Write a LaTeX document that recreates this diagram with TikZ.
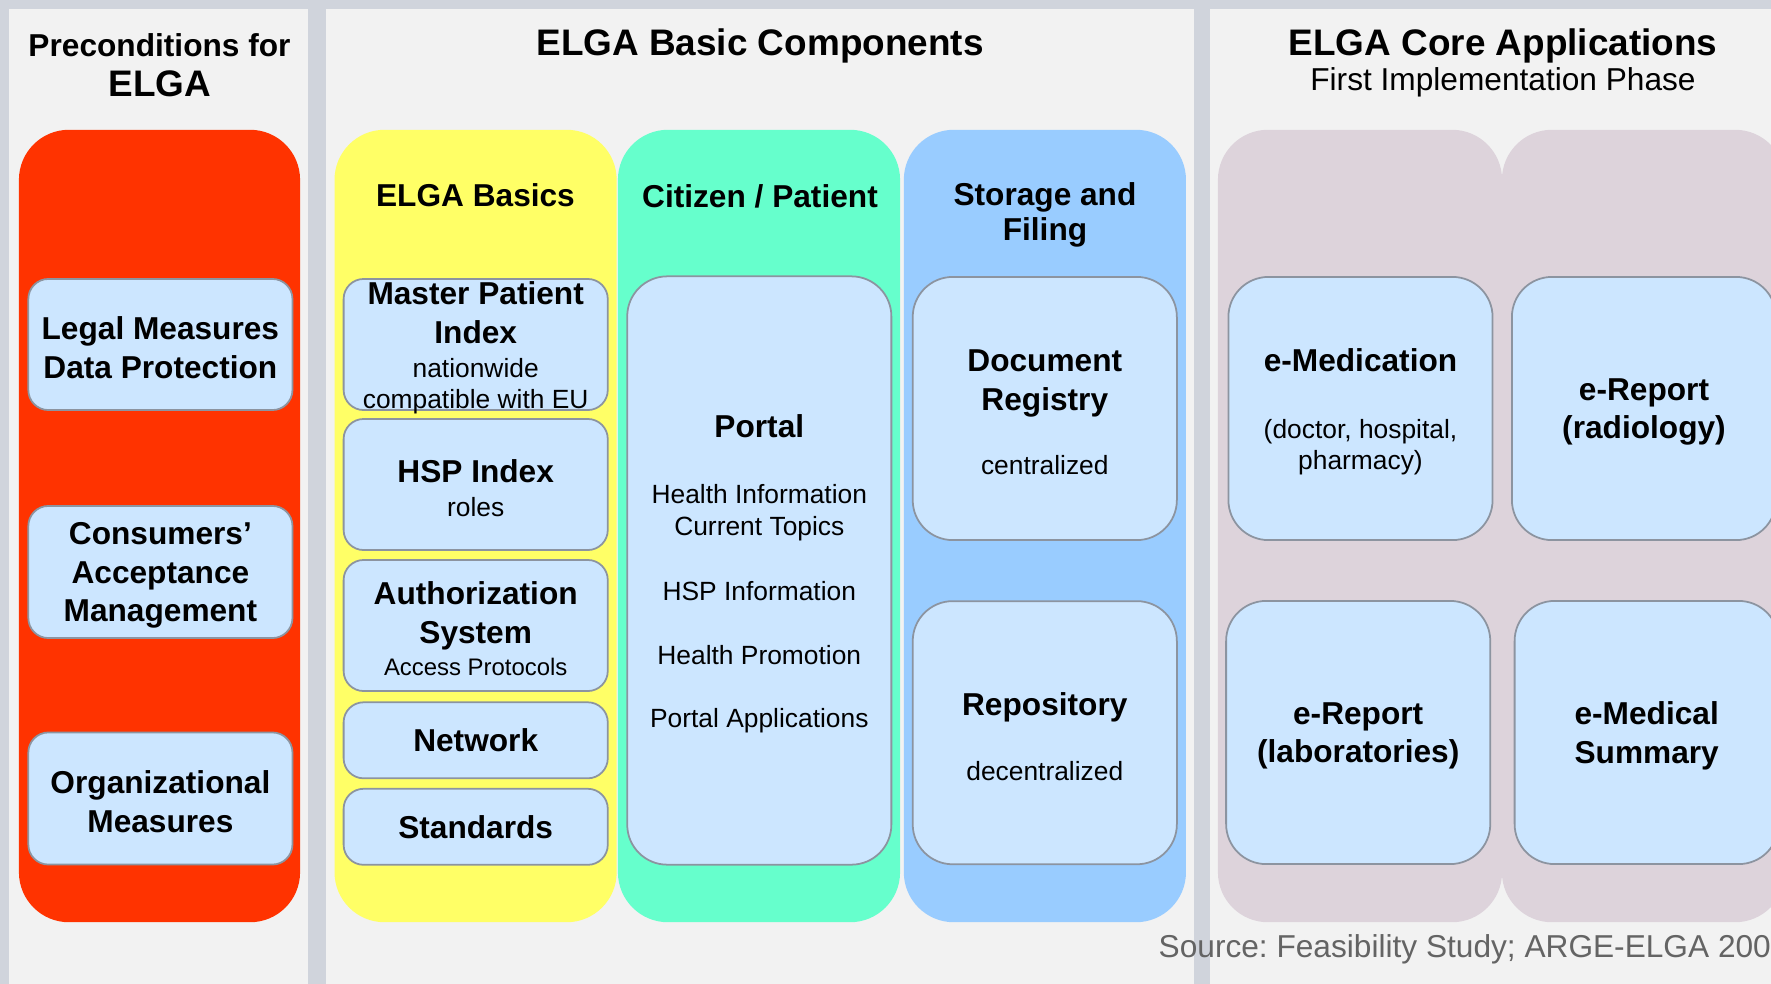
\documentclass[tikz,border=0pt]{standalone}
\usepackage{fontspec}
\setmainfont{Liberation Sans}
\usepackage{tikz}
\usetikzlibrary{shapes.geometric, backgrounds}
\definecolor{gapgray}{RGB}{208,212,220}
\definecolor{panelgray}{RGB}{242,242,242}
\definecolor{precond}{RGB}{255,51,0}
\definecolor{basics}{RGB}{255,255,102}
\definecolor{citizen}{RGB}{102,255,204}
\definecolor{storage}{RGB}{153,204,255}
\definecolor{coreapp}{RGB}{221,211,219}
\definecolor{itemblue}{RGB}{204,230,255}
\definecolor{itemline}{RGB}{140,148,160}
\definecolor{sourcegray}{RGB}{100,100,100}
\newcommand{\headfont}{\fontsize{10.5}{12.5}\selectfont\bfseries}
\newcommand{\colfont}{\fontsize{9}{10}\selectfont\bfseries}
\newcommand{\itemfont}{\fontsize{9}{11}\selectfont\bfseries}
\newcommand{\notefont}{\fontsize{7.5}{9}\selectfont\mdseries}
\newcommand{\itemend}{\par\kern-2pt}
\tikzstyle{panelbox} = [rectangle, fill=panelgray, inner sep=0pt, minimum height=9.85cm]
\tikzstyle{colbox}   = [rectangle, rounded corners=0.5cm, inner sep=0pt, minimum width=2.82cm, minimum height=7.92cm]
\tikzstyle{itembox}  = [rectangle, rounded corners=0.2cm, draw=itemline, line width=0.5pt, fill=itemblue, minimum width=2.64cm, minimum height=1.31cm, text width=2.6cm, align=flush center, inner sep=0pt, font=\itemfont, execute at end node=\itemend]
\tikzstyle{bigbox}   = [itembox, rounded corners=0.4cm, minimum height=2.63cm]

\begin{document}
\frenchspacing
\begin{tikzpicture}[x=0.01cm, y=-0.01cm]
      \useasboundingbox (0,0) rectangle (1771,984);
      \clip (0,0) rectangle (1771,984);
      \fill[gapgray] (0,0) rectangle (1771,984);

      % Panels
      \node (pre_panel)   [panelbox, minimum width=2.99cm] at (158.5,501.5) {};
      \node (basic_panel) [panelbox, minimum width=8.68cm] at (760,501.5)   {};
      \node (core_panel)  [panelbox, minimum width=5.7cm]  at (1495,501.5)  {};

      % Columns
      \node (precond_col) [colbox, fill=precond, minimum width=2.81cm] at (159.5,526) {};
      \node (basics_col)  [colbox, fill=basics]                        at (475.6,526) {};
      \node (citizen_col) [colbox, fill=citizen]                       at (759,526)   {};
      \node (storage_col) [colbox, fill=storage]                       at (1044.9,526) {};
      \node (core_col_a)  [colbox, fill=coreapp, minimum width=2.84cm] at (1360,526)  {};
      \node (core_col_b)  [colbox, fill=coreapp, minimum width=2.83cm] at (1643.5,526) {};

      % Titles
      \node (pre_title)     [anchor=base, font=\itemfont] at (159.5,56) {Preconditions for};
      \node (pre_elga)      [anchor=base, font=\headfont] at (160,96)   {ELGA};
      \node (basic_title)   [anchor=base, font=\headfont] at (760,55)   {ELGA Basic Components};
      \node (core_title)    [anchor=base, font=\headfont] at (1503,55)  {ELGA Core Applications};
      \node (core_subtitle) [anchor=base, font=\fontsize{9}{11}\selectfont] at (1503,90.5) {First Implementation Phase};
      \node (basics_head)   [anchor=base, font=\colfont] at (475.5,206) {ELGA Basics};
      \node (citizen_head)  [anchor=base, font=\colfont] at (760,207)   {Citizen / Patient};
      \node (storage_head)  [align=center, inner sep=0pt, font=\colfont] at (1045,215) {Storage and\\Filing};

      % Nodes
      %% Preconditions
      \node (legal)      [itembox] at (160.4,344.5) {Legal Measures\\Data Protection};
      \node (consumers)  [itembox, minimum height=1.32cm] at (160.4,572) {Consumers’\\Acceptance\\Management};
      \node (org)        [itembox, minimum height=1.32cm] at (160.4,798.5) {Organizational\\Measures};
      %% ELGA basics
      \node (mpi)        [itembox] at (475.7,344.5) {Master Patient\\Index\par{\notefont\vspace{0.6pt}nationwide\\compatible with EU\par}};
      \node (hsp_index)  [itembox] at (475.7,484.5) {HSP Index\par{\notefont\vspace{0.7pt}roles\par}};
      \node (auth)       [itembox] at (475.7,625.5) {Authorization\\System\par{\fontsize{6.8}{8.2}\selectfont\mdseries\vspace{1pt}Access Protocols\par}};
      \node (network)    [itembox, minimum height=0.76cm] at (475.7,740.3) {Network};
      \node (standards)  [itembox, minimum height=0.76cm] at (475.7,826.8) {Standards};
      %% Citizen / patient
      \node (portal)     [bigbox, minimum height=5.88cm] at (759.3,570.5) {Portal\par{\notefont\vspace{9.8pt}Health Information\\Current Topics\\[9.4pt]HSP Information\\[9.2pt]Health Promotion\\[9pt]Portal Applications\par}};
      %% Storage and filing
      \node (registry)   [bigbox] at (1044.8,408.5) {Document\\Registry\par{\notefont\vspace{9.2pt}centralized\par}};
      \node (repository) [bigbox] at (1044.8,732.7) {Repository\par{\notefont\vspace{9.5pt}decentralized\par}};
      %% Core applications
      \node (medication) [bigbox] at (1360.5,408.5) {e-Medication\par{\notefont\vspace{10pt}(doctor, hospital,\\pharmacy)\par}};
      \node (lab_report) [bigbox] at (1358.2,732.5) {e-Report\\(laboratories)};
      \node (rad_report) [bigbox] at (1644,408.5)   {e-Report\\(radiology)};
      \node (summary)    [bigbox] at (1646.7,732.5) {e-Medical\\Summary};

      % Source line
      \node (source) [anchor=base west, inner sep=0pt, text=sourcegray, font=\fontsize{9}{11}\selectfont] at (1158,957) {Source: Feasibility Study; ARGE-ELGA 200};
\end{tikzpicture}
\end{document}
